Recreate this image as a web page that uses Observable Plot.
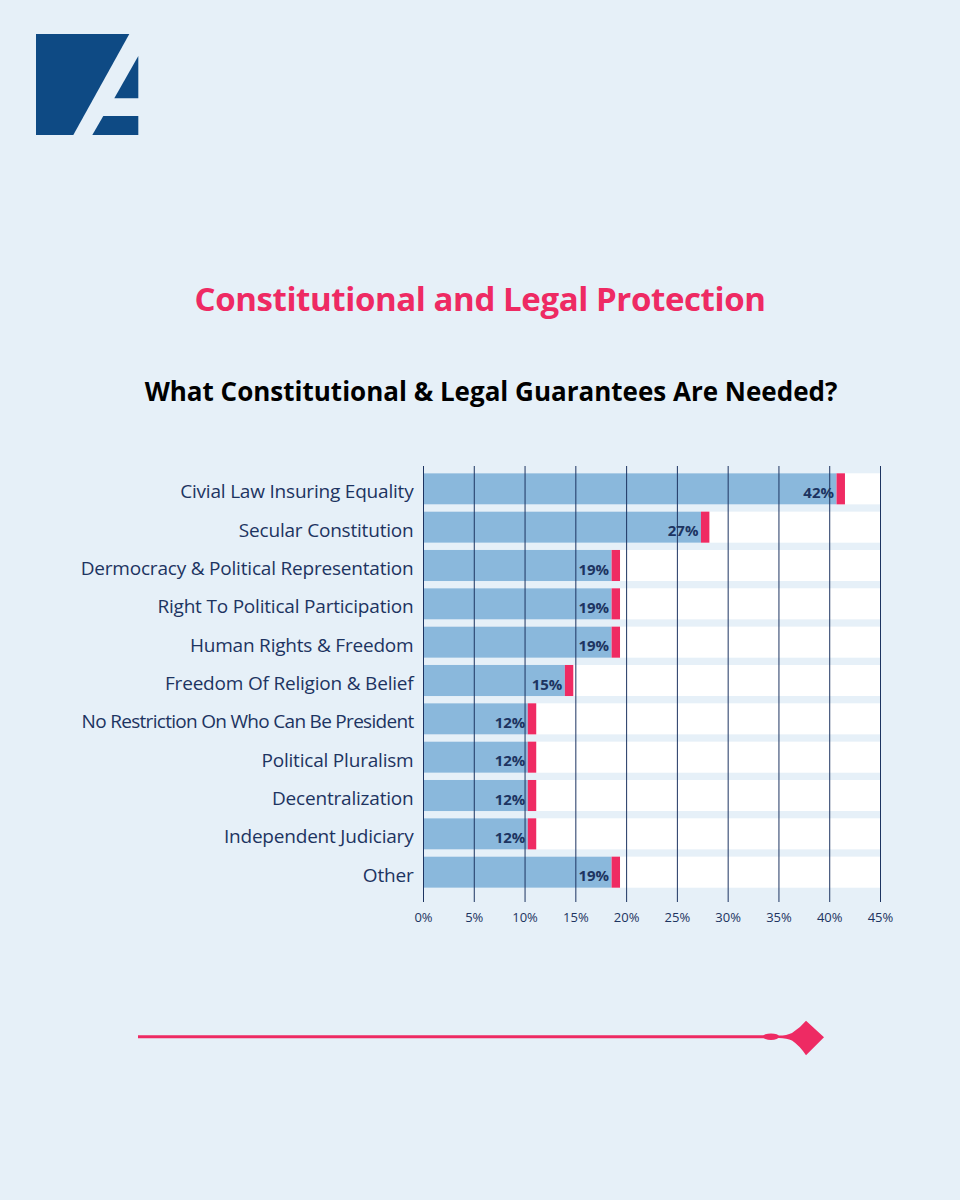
<!DOCTYPE html>
<html><head><meta charset="utf-8">
<script src="https://cdn.jsdelivr.net/npm/d3@7"></script>
<script src="https://cdn.jsdelivr.net/npm/@observablehq/plot@0.6"></script>
<style>
html,body{margin:0;padding:0;background:#e6f0f8;}
#page{position:relative;width:960px;height:1200px;background:#e6f0f8;font-family:"Open Sans",sans-serif;overflow:hidden}
#title{position:absolute;left:0;width:960px;top:282px;text-align:center;color:#ee2a63;font-weight:700;font-size:33px;line-height:1;letter-spacing:-0.4px;margin:0}
#subtitle{position:absolute;left:11px;width:960px;top:378px;text-align:center;color:#000;font-weight:700;font-size:26px;line-height:1;letter-spacing:0px;margin:0}
#chart{position:absolute;left:0;top:440px}
#deco{position:absolute;left:0;top:0}
</style>
</head><body>
<div id="page">
  <svg id="deco" width="960" height="1200">
    <polygon points="36,34 129.3,34 73.3,135 36,135" fill="#0e4a84"/>
    <polygon points="138.3,56 114.3,98.3 138.3,98.3" fill="#0e4a84"/>
    <polygon points="103.3,116 138.3,116 138.3,135 92.3,135" fill="#0e4a84"/>
    <line x1="138" y1="1036.7" x2="770" y2="1036.7" stroke="#ee2a63" stroke-width="3"/>
    <ellipse cx="771" cy="1036.7" rx="8" ry="3.3" fill="#ee2a63"/>
    <path d="M776 1035.5 Q786 1036 792 1033 Q800 1028 806 1020.7 L824 1037.3 L806 1055.3 Q800 1046 792 1040.5 Q786 1037.5 776 1038 Z" fill="#ee2a63"/>
  </svg>
  <h1 id="title">Constitutional and Legal Protection</h1>
  <h2 id="subtitle">What Constitutional &amp; Legal Guarantees Are Needed?</h2>
  <div id="chart"></div>
</div>
<script>
const categories = [
  "Civial Law Insuring Equality",
  "Secular Constitution",
  "Dermocracy & Political Representation",
  "Right To Political Participation",
  "Human Rights & Freedom",
  "Freedom Of Religion & Belief",
  "No Restriction On Who Can Be President",
  "Political Pluralism",
  "Decentralization",
  "Independent Judiciary",
  "Other"
];
// printed percentages
const values = [42, 27, 19, 19, 19, 15, 12, 12, 12, 12, 19];
// where each drawn bar (incl. its pink end marker) actually ends
const barEnds = [41.55, 28.2, 19.4, 19.4, 19.4, 14.8, 11.15, 11.15, 11.15, 11.15, 19.4];
const xTicks = [0, 5, 10, 15, 20, 25, 30, 35, 40, 45];

const rows = categories.map((c, i) => ({category: c, value: values[i], end: barEnds[i]}));
const markerWidth = 0.83;
const navy = "#1d3461";

const chart = Plot.plot({
  width: 960,
  height: 510,
  marginLeft: 423,
  marginRight: 80,
  marginTop: 26,
  marginBottom: 48,
  style: {background: "transparent", fontFamily: '"Open Sans", sans-serif', color: navy, overflow: "visible"},
  x: {domain: [0, 45], label: null},
  y: {domain: categories, range: [33.3, 447.7], paddingInner: 0.19, paddingOuter: 0, round: false, label: null},
  marks: [
    Plot.barX(rows, {y: "category", x1: 0, x2: 45, fill: "#ffffff"}),
    Plot.barX(rows, {y: "category", x1: 0, x2: d => d.end - markerWidth, fill: "#8ab8dc"}),
    Plot.barX(rows, {y: "category", x1: d => d.end - markerWidth, x2: "end", fill: "#ef2b63"}),
    Plot.ruleX(xTicks, {stroke: navy, strokeWidth: 1}),
    Plot.text(rows, {y: "category", x: d => d.end - markerWidth, text: d => d.value + "%", textAnchor: "end", dx: -3, dy: 4, fontWeight: 700, fontSize: 15, fill: navy}),
    Plot.axisX({anchor: "bottom", ticks: xTicks, tickFormat: d => d + "%", tickSize: 0, tickPadding: 10, fontSize: 13, color: navy, label: null}),
    Plot.axisY({anchor: "left", tickSize: 0, tickPadding: 10, dy: 3, fontSize: 19, color: navy, label: null})
  ]
});
d3.select(chart).selectAll('g[aria-label="y-axis tick label"] text')
  .style("letter-spacing", function() {
    return this.textContent.startsWith("No Restriction") ? "-0.7px" : "-0.2px";
  });
document.getElementById("chart").appendChild(chart);
</script>
</body></html>
